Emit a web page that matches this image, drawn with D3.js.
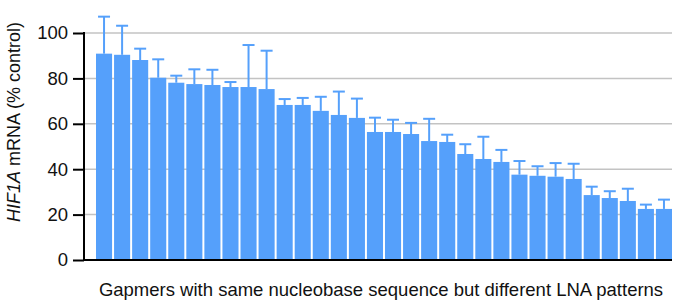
<!DOCTYPE html>
<html>
<head>
<meta charset="utf-8">
<script src="https://cdn.jsdelivr.net/npm/d3@7"></script>
<style>
  body { margin: 0; background: #fff; }
  svg text { font-family: "Liberation Sans", Arial, sans-serif; fill: #111; }
</style>
</head>
<body>
<div id="vis"></div>
<script>
// gapmer knockdown values (% control)
let gapmers = d3.range(1, 33).map(i => 'G' + i);
let means = [90.9, 90.4, 88.1, 80.3, 78.1, 77.5, 77.1, 76.2, 76.2, 75.3,
             68.3, 68.3, 65.7, 63.9, 62.6, 56.4, 56.4, 55.5, 52.4, 52.0,
             46.7, 44.5, 43.2, 37.6, 37.1, 36.7, 35.7, 28.6, 27.3, 26.0,
             22.5, 22.5];
let upper = [107.2, 103.2, 93.1, 88.4, 81.2, 84.0, 83.8, 78.4, 94.7, 92.2,
             70.9, 71.4, 71.9, 74.2, 71.1, 62.7, 61.8, 60.4, 62.2, 55.2,
             51.0, 54.3, 48.5, 43.6, 41.3, 42.7, 42.4, 32.3, 30.3, 31.4,
             24.4, 26.6];
let yTicks = [0, 20, 40, 60, 80, 100];

let margin = { left: 84, top: 33, right: 6, bottom: 41 };
let totalW = 678, totalH = 301;
let height = totalH - margin.top - margin.bottom;
let width = totalW - margin.left - margin.right;

let barColor = '#55a0fb';

let svg = d3.select('#vis').append('svg')
    .attr('width', totalW)
    .attr('height', totalH);

let g = svg.append('g')
    .attr('transform', `translate(${margin.left}, ${margin.top})`);

let xScale = d3.scaleBand()
    .domain(gapmers)
    .range([12, width])
    .paddingInner(0.11)
    .paddingOuter(0);

let yScale = d3.scaleLinear()
    .domain([0, 100])
    .range([height, 0]);

// gridlines
g.selectAll('.grid')
    .data(yTicks.filter(t => t > 0))
    .enter().append('line')
    .attr('class', 'grid')
    .attr('x1', 0)
    .attr('x2', width)
    .attr('y1', d => yScale(d))
    .attr('y2', d => yScale(d))
    .attr('stroke', '#c3c3c3')
    .attr('stroke-width', 1.5);

// error bars (upper only)
let err = g.selectAll('.err')
    .data(gapmers)
    .enter().append('g')
    .attr('class', 'err')
    .attr('stroke', barColor)
    .attr('stroke-width', 2);

err.append('line')
    .attr('x1', d => xScale(d) + xScale.bandwidth() / 2)
    .attr('x2', d => xScale(d) + xScale.bandwidth() / 2)
    .attr('y1', (d, i) => yScale(means[i]))
    .attr('y2', (d, i) => yScale(upper[i]));

err.append('line')
    .attr('x1', d => xScale(d) + xScale.bandwidth() / 2 - 6)
    .attr('x2', d => xScale(d) + xScale.bandwidth() / 2 + 6)
    .attr('y1', (d, i) => yScale(upper[i]))
    .attr('y2', (d, i) => yScale(upper[i]));

// bars
g.selectAll('.bar')
    .data(gapmers)
    .enter().append('rect')
    .attr('class', 'bar')
    .attr('x', d => xScale(d))
    .attr('width', xScale.bandwidth())
    .attr('y', (d, i) => yScale(means[i]))
    .attr('height', (d, i) => height - yScale(means[i]))
    .attr('fill', barColor);

// y axis
let yAxis = d3.axisLeft(yScale)
    .tickValues(yTicks)
    .tickSize(11)
    .tickPadding(5);

let yAxisG = g.append('g').call(yAxis);
yAxisG.select('.domain').remove();
yAxisG.selectAll('.tick line').attr('stroke', '#000').attr('stroke-width', 2);
yAxisG.selectAll('.tick text')
    .style('font-size', '18.5px')
    .attr('fill', '#111');

g.append('line')
    .attr('x1', 0).attr('x2', 0)
    .attr('y1', -1).attr('y2', height + 1)
    .attr('stroke', '#000').attr('stroke-width', 2);

g.append('line')
    .attr('x1', -1).attr('x2', width)
    .attr('y1', height).attr('y2', height)
    .attr('stroke', '#000').attr('stroke-width', 2);

// axis titles
let yTitle = svg.append('text')
    .attr('transform', `translate(20, 122) rotate(-90)`)
    .attr('text-anchor', 'middle')
    .style('font-size', '18px');
yTitle.append('tspan').style('font-style', 'italic').text('HIF1A');
yTitle.append('tspan').text(' mRNA (% control)');

svg.append('text')
    .attr('x', 381)
    .attr('y', 296)
    .attr('text-anchor', 'middle')
    .style('font-size', '18.5px')
    .text('Gapmers with same nucleobase sequence but different LNA patterns');
</script>
</body>
</html>
